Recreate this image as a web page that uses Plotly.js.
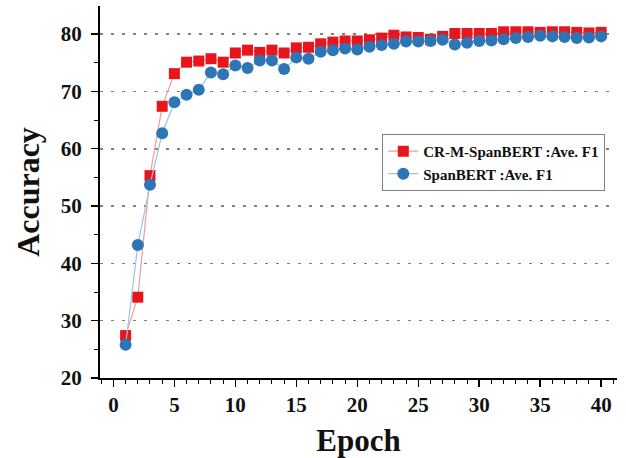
<!DOCTYPE html>
<html>
<head>
<meta charset="utf-8">
<script src="https://cdn.plot.ly/plotly-3.0.1.min.js"></script>
<style>html,body{margin:0;padding:0;background:#fff;}#chart{width:626px;height:458px;}</style>
</head>
<body>
<div id="chart"></div>
<script>
const epochs = [1,2,3,4,5,6,7,8,9,10,11,12,13,14,15,16,17,18,19,20,21,22,23,24,25,26,27,28,29,30,31,32,33,34,35,36,37,38,39,40];
const crmSpanbert = [27.4,34.1,55.3,67.4,73.1,75.1,75.3,75.7,75.1,76.7,77.2,76.8,77.2,76.7,77.6,77.7,78.3,78.6,78.8,78.8,79.0,79.3,79.8,79.5,79.4,79.1,79.6,80.1,80.1,80.1,80.1,80.4,80.4,80.4,80.3,80.4,80.4,80.3,80.2,80.3];
const spanbert = [25.8,43.2,53.7,62.7,68.1,69.4,70.3,73.3,73.0,74.5,74.1,75.4,75.4,73.9,75.9,75.7,76.9,77.2,77.5,77.3,77.8,78.1,78.3,78.7,78.7,78.8,79.0,78.2,78.5,78.8,78.9,79.1,79.3,79.5,79.7,79.6,79.5,79.3,79.4,79.6];
const seriesNames = ["CR-M-SpanBERT :Ave. F1", "SpanBERT :Ave. F1"];
const xTicks = [0,5,10,15,20,25,30,35,40];
const yTicks = [20,30,40,50,60,70,80];

const serif = "Liberation Serif";
const traces = [
  {x: epochs, y: crmSpanbert, name: seriesNames[0], type: 'scatter', mode: 'lines+markers',
   line: {color: '#f39a9a', width: 1.2},
   marker: {symbol: 'square', size: 11, color: '#e8151d'}},
  {x: epochs, y: spanbert, name: seriesNames[1], type: 'scatter', mode: 'lines+markers',
   line: {color: '#9cc2e5', width: 1.2},
   marker: {symbol: 'circle', size: 12, color: '#2e75b6'}}
];
const tickFont = {family: serif, size: 21, weight: 'bold', color: '#111'};
const layout = {
  width: 626, height: 458,
  margin: {l: 100, r: 9, t: 6, b: 80},
  paper_bgcolor: '#fff', plot_bgcolor: '#fff',
  showlegend: true,
  legend: {x: 0.546, y: 0.656, xanchor: 'left', yanchor: 'top',
    bgcolor: '#fff', bordercolor: '#7f7f7f', borderwidth: 1,
    font: {family: serif, size: 15, weight: 'bold', color: '#111'},
    tracegroupgap: 0},
  xaxis: {range: [-1.1, 41.3], tickvals: xTicks, ticktext: xTicks.map(String),
    showline: true, linecolor: '#000', linewidth: 2, zeroline: false, showgrid: false,
    ticks: 'outside', ticklen: 7, tickwidth: 1.5, tickcolor: '#000',
    minor: {dtick: 1, tick0: 0, ticks: 'outside', ticklen: 4, tickwidth: 1, tickcolor: '#000', showgrid: false},
    tickfont: tickFont,
    title: {text: 'Epoch', font: {family: serif, size: 31, weight: 'bold', color: '#111'}, standoff: 13}},
  yaxis: {range: [20, 84.9], tickvals: yTicks, ticktext: yTicks.map(String),
    showline: true, linecolor: '#000', linewidth: 2, zeroline: false,
    showgrid: true, gridcolor: '#808080', gridwidth: 1.6, griddash: '3px,8px',
    ticks: 'outside', ticklen: 7, tickwidth: 1.5, tickcolor: '#000',
    minor: {dtick: 5, tick0: 20, ticks: 'outside', ticklen: 4, tickwidth: 1, tickcolor: '#000', showgrid: false},
    tickfont: tickFont, ticklabelstandoff: 5,
    title: {text: 'Accuracy', font: {family: serif, size: 32, weight: 'bold', color: '#111'}, standoff: 12}}
};
Plotly.newPlot('chart', traces, layout, {displayModeBar: false, staticPlot: true});
</script>
</body>
</html>
